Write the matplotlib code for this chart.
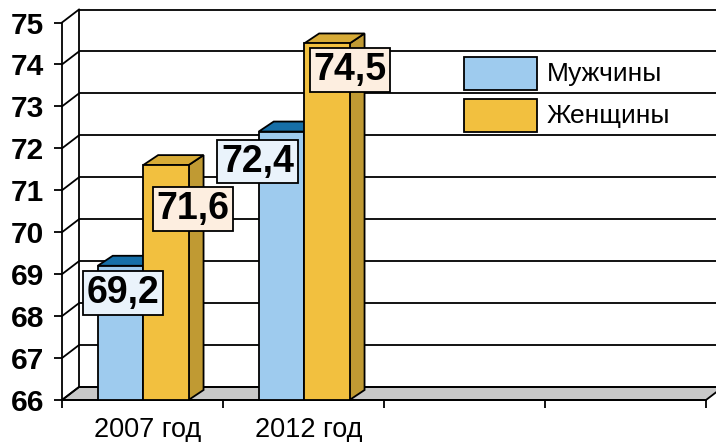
import matplotlib
matplotlib.use("Agg")
import matplotlib.pyplot as plt
from matplotlib.patches import Rectangle, Polygon

# ---- data ----
categories = ["2007 год", "2012 год"]
series_names = ["Мужчины", "Женщины"]
men = [69.2, 72.4]
women = [71.6, 74.5]
y_ticks = list(range(66, 76))
n_slots = 4

# ---- styles ----
FONT = "Liberation Sans"
plt.rcParams["font.family"] = [FONT, "DejaVu Sans"]
front_colors = ["#9ecbee", "#f2c03f"]
top_colors = ["#166fa8", "#d7ab37"]
side_colors = ["#11598a", "#c09a33"]
label_bg = ["#eaf3fb", "#fdeee0"]
LW = 1.3

W, H = 716, 442
fig = plt.figure(figsize=(W / 100, H / 100), dpi=100)


def fx(px):
    return px / W


def fy(py):
    return 1 - py / H


ax_l, ax_r, ax_t, ax_b = 62, 706, 22.5, 400
ax = fig.add_axes([fx(ax_l), fy(ax_b), fx(ax_r) - fx(ax_l), fy(ax_t) - fy(ax_b)])
ymin, ymax = y_ticks[0], y_ticks[-1]
ax.set_xlim(0, n_slots)
ax.set_ylim(ymin, ymax)
ax.patch.set_visible(False)

# pixel -> data unit conversion for the oblique depth
ux = n_slots / (ax_r - ax_l)
uy = (ymax - ymin) / (ax_b - ax_t)
DX, DY = 17 * ux, 13 * uy        # wall depth
BDX, BDY = 15 * ux, 10 * uy      # bar depth

for s in ["top", "right"]:
    ax.spines[s].set_visible(False)
for s in ["left", "bottom"]:
    ax.spines[s].set_linewidth(LW)
    ax.spines[s].set_color("black")
    ax.spines[s].set_zorder(3)

ax.set_yticks(y_ticks)
ax.set_yticklabels([str(t) for t in y_ticks], fontsize=21.5, fontweight="bold")
ax.tick_params(axis="y", length=6, width=LW, pad=7, colors="black")
ax.set_xticks(range(n_slots + 1))
ax.set_xticklabels([])
ax.tick_params(axis="x", length=6, width=LW, colors="black")

# floor
floor = Polygon([(0, ymin), (n_slots, ymin), (n_slots + DX, ymin + DY), (DX, ymin + DY)],
                closed=True, facecolor="#c8c8c8", edgecolor="black", lw=LW,
                clip_on=False, zorder=1)
ax.add_patch(floor)

# back-wall gridlines and left-wall diagonals
for v in y_ticks:
    ax.plot([DX, n_slots + DX], [v + DY, v + DY], color="black", lw=LW,
            clip_on=False, zorder=1.5, solid_capstyle="butt")
    ax.plot([0, DX], [v, v + DY], color="black", lw=LW, clip_on=False, zorder=1.5)
ax.plot([DX, DX], [ymin + DY, ymax + DY], color="black", lw=LW, clip_on=False, zorder=1.5)

# bars
bar_start, bar_w = 0.222, 0.282
label_offsets = [[(2.6, -27), (27, -44)], [(-24, -30), (23, -26.5)]]
z = 4
for i, cat in enumerate(categories):
    for j, vals in enumerate([men, women]):
        v = vals[i]
        x0 = i + bar_start + j * bar_w
        x1 = x0 + bar_w
        side = Polygon([(x1, ymin), (x1 + BDX, ymin + BDY), (x1 + BDX, v + BDY), (x1, v)],
                       closed=True, facecolor=side_colors[j], edgecolor="black",
                       lw=LW, zorder=z, clip_on=False, joinstyle="miter")
        top = Polygon([(x0, v), (x1, v), (x1 + BDX, v + BDY), (x0 + BDX, v + BDY)],
                      closed=True, facecolor=top_colors[j], edgecolor="black",
                      lw=LW, zorder=z, clip_on=False, joinstyle="miter")
        front = Rectangle((x0, ymin), bar_w, v - ymin, facecolor=front_colors[j],
                          edgecolor="black", lw=LW, zorder=z + 0.5, clip_on=False)
        ax.add_patch(side)
        ax.add_patch(top)
        ax.add_patch(front)
        z += 1

# value labels
for i in range(len(categories)):
    for j, vals in enumerate([men, women]):
        v = vals[i]
        xc = i + bar_start + j * bar_w + bar_w / 2
        ox, oy = label_offsets[i][j]
        ax.annotate(f"{v:.1f}".replace(".", ","), xy=(xc, v), xycoords="data",
                    xytext=(ox * 0.72, oy * 0.72), textcoords="offset points",
                    ha="center", va="center", fontsize=27, fontweight="bold",
                    color="black", zorder=20,
                    bbox=dict(boxstyle="square,pad=0.1", facecolor=label_bg[j],
                              edgecolor="black", lw=LW))

# category labels
for i, cat in enumerate(categories):
    ax.annotate(cat, xy=(i + 0.5, ymin), xycoords="data", xytext=(3.6, -21.5),
                textcoords="offset points", ha="center", va="center",
                fontsize=19.5, color="black")

# legend
leg_rows = [(57, 90), (99, 132)]
for j, name in enumerate(series_names):
    t, b = leg_rows[j]
    fig.add_artist(Rectangle((fx(464), fy(b)), fx(537) - fx(464), fy(t) - fy(b),
                             transform=fig.transFigure, facecolor=front_colors[j],
                             edgecolor="black", lw=LW, zorder=10))
    fig.text(fx(547), fy((t + b) / 2), name, ha="left", va="center",
             fontsize=19, color="black", zorder=10)

fig.savefig("out.png", dpi=100)
